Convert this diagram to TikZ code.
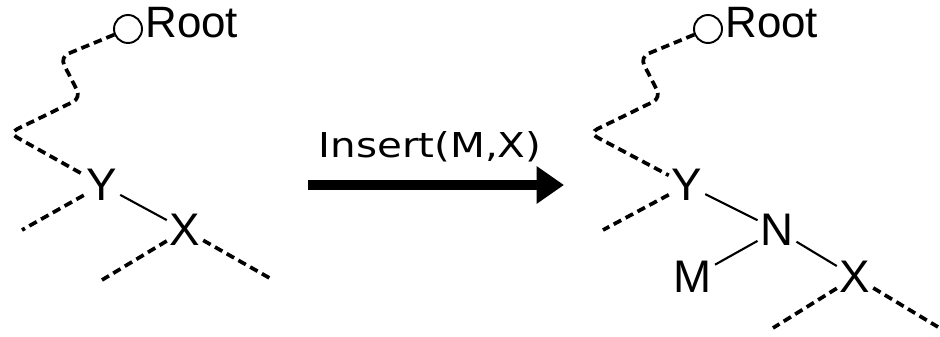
\documentclass[tikz,border=0pt]{standalone}
\usepackage{fontspec}
\setmainfont{Liberation Sans}
\newfontfamily\opfont{DejaVu Sans}[FakeStretch=1.18]
\usetikzlibrary{arrows.meta}
\begin{document}
\begin{tikzpicture}[
    x=0.02cm, y=-0.02cm,
    key/.style={inner sep=1.5pt, font=\fontsize{26}{28}\selectfont},
    rootnode/.style={circle, draw, line width=1.1pt, minimum size=0.56cm, inner sep=0pt},
    roottext/.style={inner sep=0pt, anchor=base west, font=\fontsize{25}{27}\selectfont},
    path/.style={line width=2.1pt, dash pattern=on 0.17cm off 0.1cm, rounded corners=0.18cm},
    stub/.style={line width=2.1pt, dash pattern=on 0.17cm off 0.1cm},
    link/.style={line width=1.2pt},
    op/.style={line width=0.2cm, -{Triangle[length=0.55cm, width=0.72cm]}}
    ]
    \useasboundingbox (0,0) rectangle (940,337);
    % before
    \node[rootnode] (rootL) at (128,29) {};
    \node[roottext] (rootLtext) at (145,38) {Root};
    \node[key] (yL) at (102,185) {Y};
    \node[key] (xL) at (185,230) {X};
    \coordinate (yLleft) at (22,230);
    \coordinate (xLleft) at (102,280);
    \coordinate (xLright) at (273,280);
    \draw[path] (rootL) -- (60,57) -- (81,98) -- (9,133) -- (yL);
    \draw[link] (yL) -- (xL);
    \draw[stub] (yL) -- (yLleft);
    \draw[stub] (xL) -- (xLleft);
    \draw[stub] (xL) -- (xLright);
    % operation
    \coordinate (opStart) at (308,185);
    \coordinate (opEnd) at (564,185);
    \draw[op] (opStart) -- (opEnd);
    \node[inner sep=0pt, font=\opfont\fontsize{19.5}{22}\selectfont] (opLabel) at (430,147) {Insert(M,X)};
    % after
    \node[rootnode] (rootR) at (708,29) {};
    \node[roottext] (rootRtext) at (725,38) {Root};
    \node[key] (yR) at (687,185) {Y};
    \node[key] (n) at (777,230) {N};
    \node[key] (m) at (693,277) {M};
    \node[key] (xR) at (855,277) {X};
    \coordinate (yRleft) at (603,230);
    \coordinate (xRleft) at (773,328);
    \coordinate (xRright) at (938,327);
    \draw[path] (rootR) -- (640,57) -- (661,98) -- (589,133) -- (yR);
    \draw[link] (yR) -- (n);
    \draw[link] (n) -- (m);
    \draw[link] (n) -- (xR);
    \draw[stub] (yR) -- (yRleft);
    \draw[stub] (xR) -- (xRleft);
    \draw[stub] (xR) -- (xRright);
\end{tikzpicture}
\end{document}
